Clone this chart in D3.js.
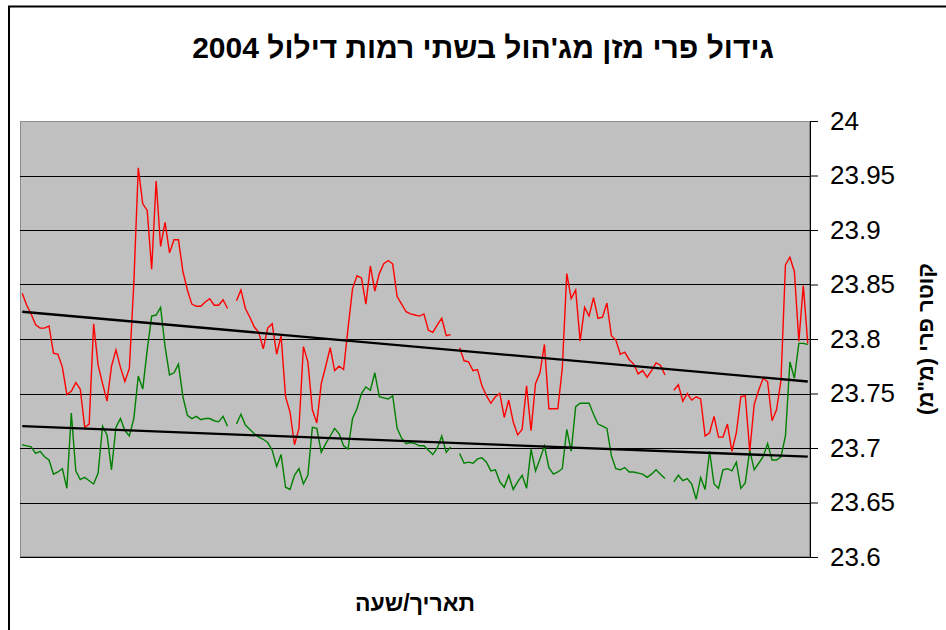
<!DOCTYPE html>
<html><head><meta charset="utf-8">
<script src="https://cdn.jsdelivr.net/npm/d3@7"></script>
<style>body{margin:0;background:#fff}svg{display:block}</style>
</head><body>
<script>
// ---- data ----
const title = "גידול פרי מזן מג'הול בשתי רמות דילול 2004";
const xTitle = "תאריך/שעה";
const yTitle = 'קוטר פרי (מ"מ)';
const yTickValues = [23.6, 23.65, 23.7, 23.75, 23.8, 23.85, 23.9, 23.95, 24];
const yTickLabels = ["23.6", "23.65", "23.7", "23.75", "23.8", "23.85", "23.9", "23.95", "24"];

const redValues = [
  23.842,23.831,23.823,23.813,23.810,23.810,23.812,23.787,23.786,23.774,
  23.749,23.752,23.760,23.754,23.719,23.722,23.814,23.776,23.759,23.743,
  23.775,23.790,23.774,23.761,23.773,23.851,23.957,23.924,23.918,23.864,
  23.945,23.885,23.907,23.879,23.891,23.891,23.862,23.845,23.832,23.830,
  23.830,23.834,23.837,23.831,23.831,23.836,23.828,null,
  23.835,23.845,23.828,23.820,23.811,23.806,23.791,23.810,23.814,23.786,
  23.803,23.747,23.733,23.703,23.718,23.793,23.779,23.735,23.723,23.759,
  23.775,23.792,23.771,23.775,23.772,23.810,23.846,23.858,23.856,23.832,
  23.867,23.844,23.860,23.869,23.872,23.869,23.839,23.832,23.825,23.823,
  23.822,23.821,23.823,23.808,23.806,23.813,23.819,23.803,23.804,null,
  23.792,23.780,23.779,23.771,23.772,23.757,23.748,23.741,23.747,23.750,
  23.728,23.744,23.724,23.712,23.717,23.757,23.716,23.759,23.769,23.795,
  23.736,23.736,23.736,23.773,23.860,23.837,23.845,23.798,23.829,23.821,
  23.838,23.819,23.820,23.833,23.803,23.799,23.786,23.788,23.781,23.777,
  23.768,23.771,23.765,23.771,23.778,23.776,23.767,null,
  23.753,23.758,23.743,23.750,23.744,23.747,23.745,23.711,23.714,23.729,
  23.710,23.710,23.722,23.697,23.714,23.747,23.748,23.697,23.740,23.753,
  23.764,23.761,23.725,23.735,23.762,23.868,23.875,23.862,23.798,23.849,
  23.796
];
const greenValues = [
  23.703,23.702,23.701,23.695,23.697,23.692,23.689,23.676,23.678,23.681,
  23.663,23.732,23.679,23.671,23.673,23.670,23.667,23.677,23.720,23.712,
  23.680,23.719,23.727,23.716,23.711,23.727,23.766,23.754,23.790,23.821,
  23.822,23.829,23.793,23.767,23.769,23.777,23.747,23.730,23.727,23.729,
  23.726,23.727,23.727,23.725,23.724,23.729,23.720,null,
  23.722,23.731,23.721,23.717,23.713,23.710,23.708,23.705,23.698,23.683,
  23.694,23.664,23.662,23.675,23.681,23.667,23.675,23.719,23.718,23.696,
  23.704,23.711,23.718,23.713,23.702,23.699,23.727,23.736,23.750,23.756,
  23.753,23.769,23.747,23.746,23.745,23.748,23.718,23.709,23.704,23.705,
  23.704,23.702,23.702,23.698,23.694,23.700,23.711,23.696,23.701,null,
  23.695,23.686,23.687,23.686,23.690,23.691,23.687,23.679,23.680,23.669,
  23.664,23.675,23.662,23.669,23.675,23.663,23.699,23.679,23.690,23.702,
  23.682,23.676,23.678,23.681,23.717,23.697,23.738,23.741,23.741,23.741,
  23.731,23.722,23.720,23.718,23.693,23.681,23.680,23.682,23.678,23.678,
  23.677,23.676,23.673,23.676,23.680,23.676,23.672,null,
  23.669,23.675,23.670,23.672,23.667,23.653,23.673,23.662,23.697,23.667,
  23.663,23.680,23.681,23.679,23.687,23.663,23.668,23.698,23.680,23.686,
  23.692,23.704,23.689,23.689,23.692,23.711,23.779,23.764,23.796,23.796,
  23.795
];
// linear trendline values at first and last reading
const redTrend = [23.825, 23.761];
const greenTrend = [23.720, 23.692];
const categories = redValues.map((d, i) => i + 1);

// ---- layout ----
const W = 946, H = 630;
const plot = {left: 20, right: 810, top: 121, bottom: 557};
const FONT = "'Liberation Sans', Arial, 'DejaVu Sans', sans-serif";

const svg = d3.select("body").append("svg").attr("width", W).attr("height", H)
  .style("font-family", FONT);
svg.append("rect").attr("width", W).attr("height", H).attr("fill", "#fff");

// outer chart frame (partly cut off)
svg.append("path").attr("d", `M9,${H} V6.5 H${W}`)
  .attr("fill", "none").attr("stroke", "#000").attr("stroke-width", 2);

const x = d3.scalePoint().domain(categories).range([plot.left, plot.right]).padding(0.5);
const y = d3.scaleLinear().domain([23.6, 24]).range([plot.bottom, plot.top]);

svg.append("rect").attr("x", plot.left + 0.5).attr("y", plot.top + 0.5)
  .attr("width", plot.right - plot.left - 1).attr("height", plot.bottom - plot.top - 1)
  .attr("fill", "#C0C0C0").attr("stroke", "#8c8c8c").attr("stroke-width", 1);

// gridlines
svg.append("g").selectAll("line").data(yTickValues.filter(v => v > 23.6 && v < 24))
  .join("line")
  .attr("x1", plot.left).attr("x2", plot.right)
  .attr("y1", d => Math.round(y(d)) + 0.5).attr("y2", d => Math.round(y(d)) + 0.5)
  .attr("stroke", "#000").attr("stroke-width", 1);
// bottom axis line
svg.append("line").attr("x1", plot.left).attr("x2", plot.right)
  .attr("y1", plot.bottom + 0.5).attr("y2", plot.bottom + 0.5)
  .attr("stroke", "#000");

// right value axis
const yAxis = d3.axisRight(y).tickValues(yTickValues)
  .tickFormat((d, i) => yTickLabels[i]).tickSize(8).tickSizeOuter(0).tickPadding(12);
const ga = svg.append("g").attr("transform", `translate(${plot.right},0)`).call(yAxis);
ga.select(".domain").attr("stroke", "#000");
ga.selectAll(".tick line").attr("stroke", "#000");
ga.selectAll(".tick text").attr("fill", "#000").style("font-size", "26px").style("font-family", FONT);

// series
const line = d3.line().defined(d => d != null).x((d, i) => x(categories[i])).y(d => y(d));
svg.append("path").datum(greenValues).attr("d", line)
  .attr("fill", "none").attr("stroke", "#008000").attr("stroke-width", 1.4);
svg.append("path").datum(redValues).attr("d", line)
  .attr("fill", "none").attr("stroke", "#FF0000").attr("stroke-width", 1.4);

// trendlines
const first = categories[0], last = categories[categories.length - 1];
[redTrend, greenTrend].forEach(t => {
  svg.append("line")
    .attr("x1", x(first)).attr("y1", y(t[0]))
    .attr("x2", x(last)).attr("y2", y(t[1]))
    .attr("stroke", "#000").attr("stroke-width", 2.3);
});

// titles
svg.append("text").attr("x", 483).attr("y", 58).attr("text-anchor", "middle")
  .attr("direction", "rtl").style("unicode-bidi", "plaintext")
  .style("font-size", "30px").style("font-weight", "bold").text(title);
svg.append("text").attr("x", 415).attr("y", 611).attr("text-anchor", "middle")
  .style("font-size", "23px").style("font-weight", "bold").text(xTitle);
svg.append("text").attr("transform", "translate(925,339) rotate(-90)")
  .attr("text-anchor", "middle").attr("dominant-baseline", "central")
  .style("font-size", "22px").style("font-weight", "bold").text(yTitle);
</script>
</body></html>
